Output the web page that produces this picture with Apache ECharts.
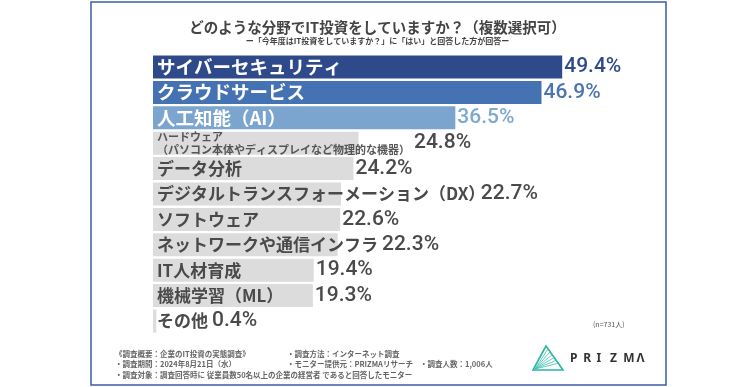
<!DOCTYPE html>
<html><head><meta charset="utf-8">
<script src="https://cdn.jsdelivr.net/npm/echarts@6/dist/echarts.min.js"></script>
<style>html,body{margin:0;padding:0;background:#fff}#main{width:755px;height:387px}</style>
</head><body><div id="main"></div>
<script>
// ---- data ----
const categories = ['サイバーセキュリティ','クラウドサービス','人工知能（AI）','ハードウェア\n（パソコン本体やディスプレイなど物理的な機器）','データ分析','デジタルトランスフォーメーション（DX）','ソフトウェア','ネットワークや通信インフラ','IT人材育成','機械学習（ML）','その他'];
const values = [49.4,46.9,36.5,24.8,24.2,22.7,22.6,22.3,19.4,19.3,0.4];
const titleText = 'どのような分野でIT投資をしていますか？（複数選択可）';
const subText = 'ー「今年度はIT投資をしていますか？」に「はい」と回答した方が回答ー';
const footLines = [
  ['《調査概要：企業のIT投資の実態調査》','・調査方法：インターネット調査',''],
  ['・調査期間：2024年8月21日（水）','・モニター提供元：PRIZMAリサーチ','・調査人数：1,006人'],
  ['・調査対象：調査回答時に 従業員数50名以上の企業の経営者 であると回答したモニター','','']
];
const nText = '(n=731人)';
const logoLetters = ['P','R','I','Z','M','Λ'];

// ---- styles ----
const barColors = ['#2e4a8b','#4472b3','#7ba5ce'];
const valColors = ['#2e4a8b','#4a74b2','#7ea8d0'];
const grayBar = '#dcdcdc', grayText = '#4a4a4a';
const JP = '"Noto Sans CJK JP", sans-serif';
const NUM = 'Roboto, sans-serif';
const BIG_SIZE = 18.5, CAT_SIZE = 17, SMALL_SIZE = 11, LABEL_MARGIN = 4, VAL_GAP = 2;

const chart = echarts.init(document.getElementById('main'));

function catLabel(v, i) {
  if (v.indexOf('\n') >= 0) return v.split('\n').map(l => '{s|' + l + '}').join('\n');
  return '{' + (i < 3 ? 'w' : 'g') + '|' + v + '}';
}

function buildData(offsets) {
  return values.map((v, i) => ({
    value: v,
    itemStyle: { color: i < 3 ? barColors[i] : grayBar },
    label: { color: i < 3 ? valColors[i] : grayText, offset: [offsets ? offsets[i] : 0, 0] }
  }));
}

const fx = [115, 287, 420];
const graphics = [
  { type: 'rect', shape: { x: 91, y: 2, width: 575, height: 383 }, style: { fill: 'none', stroke: '#3a5ca6', lineWidth: 1.5 }, z: 1 },
  { type: 'text', x: 593, y: 321, style: { text: nText, font: '7px ' + JP, fill: '#555' } }
];
footLines.forEach((row, r) => row.forEach((t, c) => {
  if (t) graphics.push({ type: 'text', x: fx[c], y: 350 + r * 10.5, style: { text: t, font: 'bold 7.5px ' + JP, fill: '#666' } });
}));
// logo
const A = [546, 346], B = [533, 370], C = [563, 370];
graphics.push({ type: 'polygon', shape: { points: [A, B, C] },
  style: { fill: 'none', stroke: '#2bb5a2', lineWidth: 1.6 } });
[0.12, 0.24, 0.36, 0.48, 0.6, 0.72].forEach(t => {
  graphics.push({ type: 'line', shape: { x1: B[0] + 2, y1: B[1] - 1, x2: A[0] + (C[0] - A[0]) * t, y2: A[1] + (C[1] - A[1]) * t },
    style: { stroke: '#3cc2b0', lineWidth: 0.8 } });
});
logoLetters.forEach((ch, k) => {
  graphics.push({ type: 'text', x: 570 + k * 13.3, y: 353, style: { text: ch, font: 'bold 12px "Noto Sans", sans-serif', fill: '#333' } });
});

const option = {
  backgroundColor: '#fff',
  animation: false,
  title: {
    text: titleText, subtext: subText, left: 'center', top: 15, itemGap: 2,
    textStyle: { fontFamily: JP, fontSize: 14.5, fontWeight: 'bold', color: '#444' },
    subtextStyle: { fontFamily: JP, fontSize: 8, fontWeight: 'bold', color: '#444' }
  },
  grid: { left: 153, width: 497, top: 54.3, height: 279.4, containLabel: false },
  xAxis: { type: 'value', min: 0, max: 60, show: false },
  yAxis: {
    type: 'category', data: categories, inverse: true, z: 10,
    axisLine: { show: false }, axisTick: { show: false }, splitLine: { show: false },
    axisLabel: {
      inside: true, margin: LABEL_MARGIN, formatter: catLabel,
      rich: {
        w: { color: '#fff', fontFamily: JP, fontSize: BIG_SIZE, fontWeight: 'bold' },
        g: { color: grayText, fontFamily: JP, fontSize: CAT_SIZE, fontWeight: 'bold' },
        s: { color: '#555', fontFamily: JP, fontSize: SMALL_SIZE, fontWeight: 'bold', lineHeight: 13 }
      }
    }
  },
  series: [{
    type: 'bar', barWidth: 23, data: buildData(null),
    label: { show: true, position: 'right', distance: VAL_GAP, formatter: '{c}%',
      fontFamily: NUM, fontSize: 21, fontWeight: 500 }
  }],
  graphic: graphics
};
chart.setOption(option);

// shift value labels past category text where the text is longer than the bar
function textWidth(t, font) {
  const el = new echarts.graphic.Text({ style: { text: t, font: font } });
  return el.getBoundingRect().width;
}
const offsets = categories.map((c, i) => {
  let w;
  if (c.indexOf('\n') >= 0) {
    w = Math.max.apply(null, c.split('\n').map(l => textWidth(l, 'bold ' + SMALL_SIZE + 'px ' + JP)));
  } else {
    const size = i < 3 ? BIG_SIZE : CAT_SIZE;
    w = textWidth(c, 'bold ' + size + 'px ' + JP);
    if (/）$/.test(c)) w -= size * 0.5; // full-width closing paren carries blank space on its right
  }
  const x0 = chart.convertToPixel({ xAxisIndex: 0 }, 0);
  const xe = chart.convertToPixel({ xAxisIndex: 0 }, values[i]);
  return Math.max(0, x0 + LABEL_MARGIN + w - xe + 2);
});
chart.setOption({ series: [{ data: buildData(offsets) }] });
</script></body></html>
